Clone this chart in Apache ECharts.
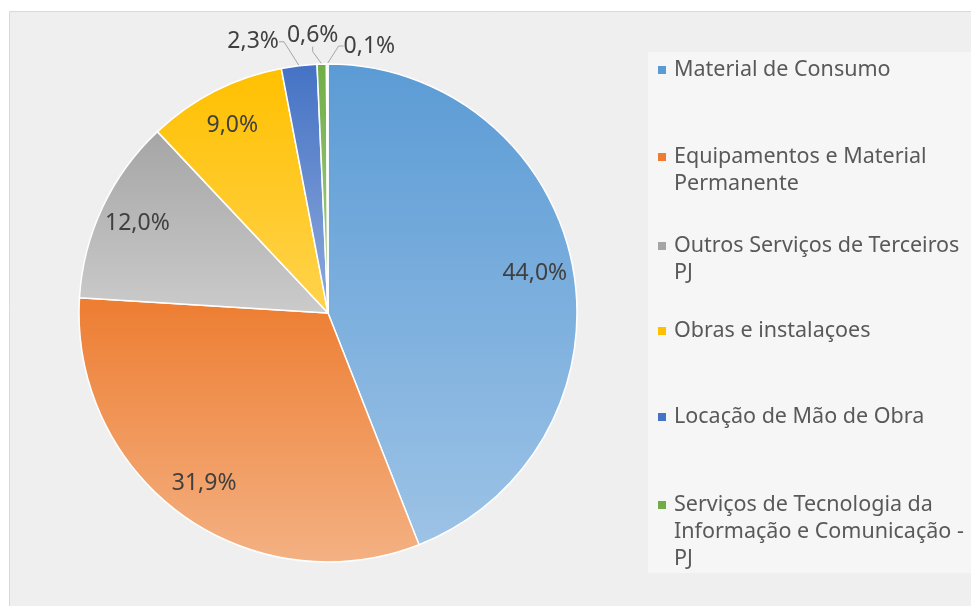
<!DOCTYPE html>
<html>
<head>
<meta charset="utf-8">
<script src="https://cdn.jsdelivr.net/npm/echarts@6/dist/echarts.min.js"></script>
<style>
  html, body { margin: 0; padding: 0; background: #fff; }
  #chart { width: 971px; height: 606px; }
</style>
</head>
<body>
<div id="chart"></div>
<script>
// categorias e percentuais
const categories = [
  'Material de Consumo',
  'Equipamentos e Material Permanente',
  'Outros Serviços de Terceiros PJ',
  'Obras e instalaçoes',
  'Locação de Mão de Obra',
  'Serviços de Tecnologia da Informação e Comunicação - PJ'
]
// como aparece na legenda (quebras de linha)
const legendLabels = [
  'Material de Consumo',
  'Equipamentos e Material\nPermanente',
  'Outros Serviços de Terceiros\nPJ',
  'Obras e instalaçoes',
  'Locação de Mão de Obra',
  'Serviços de Tecnologia da\nInformação e Comunicação -\nPJ'
]
const percentages = [44.0, 31.9, 12.0, 9.0, 2.3, 0.6]
// fatia extra muito pequena (0,1%) sem entrada na legenda
const extraSlice = { name: 'Outros', value: 0.1 }

const baseColors = ['#5b9bd5', '#ed7d31', '#a5a5a5', '#ffc000', '#4472c4', '#70ad47', '#5b9bd5']
const lightColors = ['#9dc3e6', '#f4b183', '#cbcbcb', '#ffd34d', '#8faadc', '#a9d18e', '#9dc3e6']

const chart = echarts.init(document.getElementById('chart'))

const fmt = (v) => v.toFixed(1).replace('.', ',') + '%'

const allNames = categories.concat([extraSlice.name])
const allValues = percentages.concat([extraSlice.value])

const pieData = allNames.map((name, i) => ({
  name: name,
  value: allValues[i],
  itemStyle: {
    color: new echarts.graphic.LinearGradient(0, 0, 0, 1, [
      { offset: 0, color: baseColors[i] },
      { offset: 1, color: lightColors[i] }
    ])
  }
}))

const labelData = allNames.map((name, i) => {
  const small = allValues[i] < 5
  return {
    name: name,
    value: allValues[i],
    label: { position: small ? 'outside' : 'inside' },
    labelLine: { show: small }
  }
})

// deslocamento dos rótulos externos (fatias pequenas no topo)
const labelShifts = { 4: [-9, -14], 5: [27, -19], 6: [78, -8] }

// legenda montada à mão (ícone alinhado à primeira linha)
const legendTops = [70, 157, 246, 331, 417, 505]
const legendGraphics = []
legendLabels.forEach((txt, i) => {
  legendGraphics.push({
    type: 'rect',
    shape: { x: 658, y: legendTops[i] - 4, width: 8, height: 8 },
    style: { fill: baseColors[i] },
    silent: true
  })
  legendGraphics.push({
    type: 'text',
    x: 674,
    y: legendTops[i] - 13.5,
    style: {
      text: txt,
      fill: '#595959',
      font: '21.5px "Noto Sans"',
      lineHeight: 27,
      verticalAlign: 'top'
    },
    silent: true
  })
})

const option = {
  backgroundColor: '#ffffff',
  animation: false,
  graphic: [
    {
      type: 'rect',
      z: -10,
      shape: { x: 9.5, y: 11.5, width: 970, height: 600 },
      style: { fill: '#efefef', stroke: '#d9d9d9', lineWidth: 1 },
      silent: true
    },
    {
      type: 'rect',
      z: -9,
      shape: { x: 648, y: 52, width: 330, height: 521 },
      style: { fill: '#f6f6f6' },
      silent: true
    }
  ].concat(legendGraphics),
  series: [
    {
      name: 'Despesas',
      type: 'pie',
      center: [328, 313],
      radius: [0, 249],
      startAngle: 90,
      clockwise: true,
      silent: true,
      label: { show: false },
      labelLine: { show: false },
      itemStyle: { borderColor: '#ffffff', borderWidth: 1.5 },
      data: pieData
    },
    {
      // série transparente só para posicionar os rótulos
      name: 'Rotulos',
      type: 'pie',
      center: [328, 313],
      radius: [166, 249],
      startAngle: 90,
      clockwise: true,
      silent: true,
      avoidLabelOverlap: false,
      itemStyle: { color: 'transparent', borderWidth: 0 },
      label: {
        show: true,
        formatter: (p) => fmt(p.value),
        color: '#404040',
        fontFamily: 'Noto Sans',
        fontSize: 23
      },
      labelLine: {
        length: 10,
        length2: 5,
        lineStyle: { color: '#a6a6a6', width: 1 }
      },
      labelLayout: (params) => {
        const s = labelShifts[params.dataIndex]
        if (!s) return {}
        return {
          x: params.labelRect.x + s[0],
          y: params.labelRect.y + s[1],
          align: 'left',
          verticalAlign: 'top'
        }
      },
      data: labelData
    }
  ]
}

chart.setOption(option)
</script>
</body>
</html>
